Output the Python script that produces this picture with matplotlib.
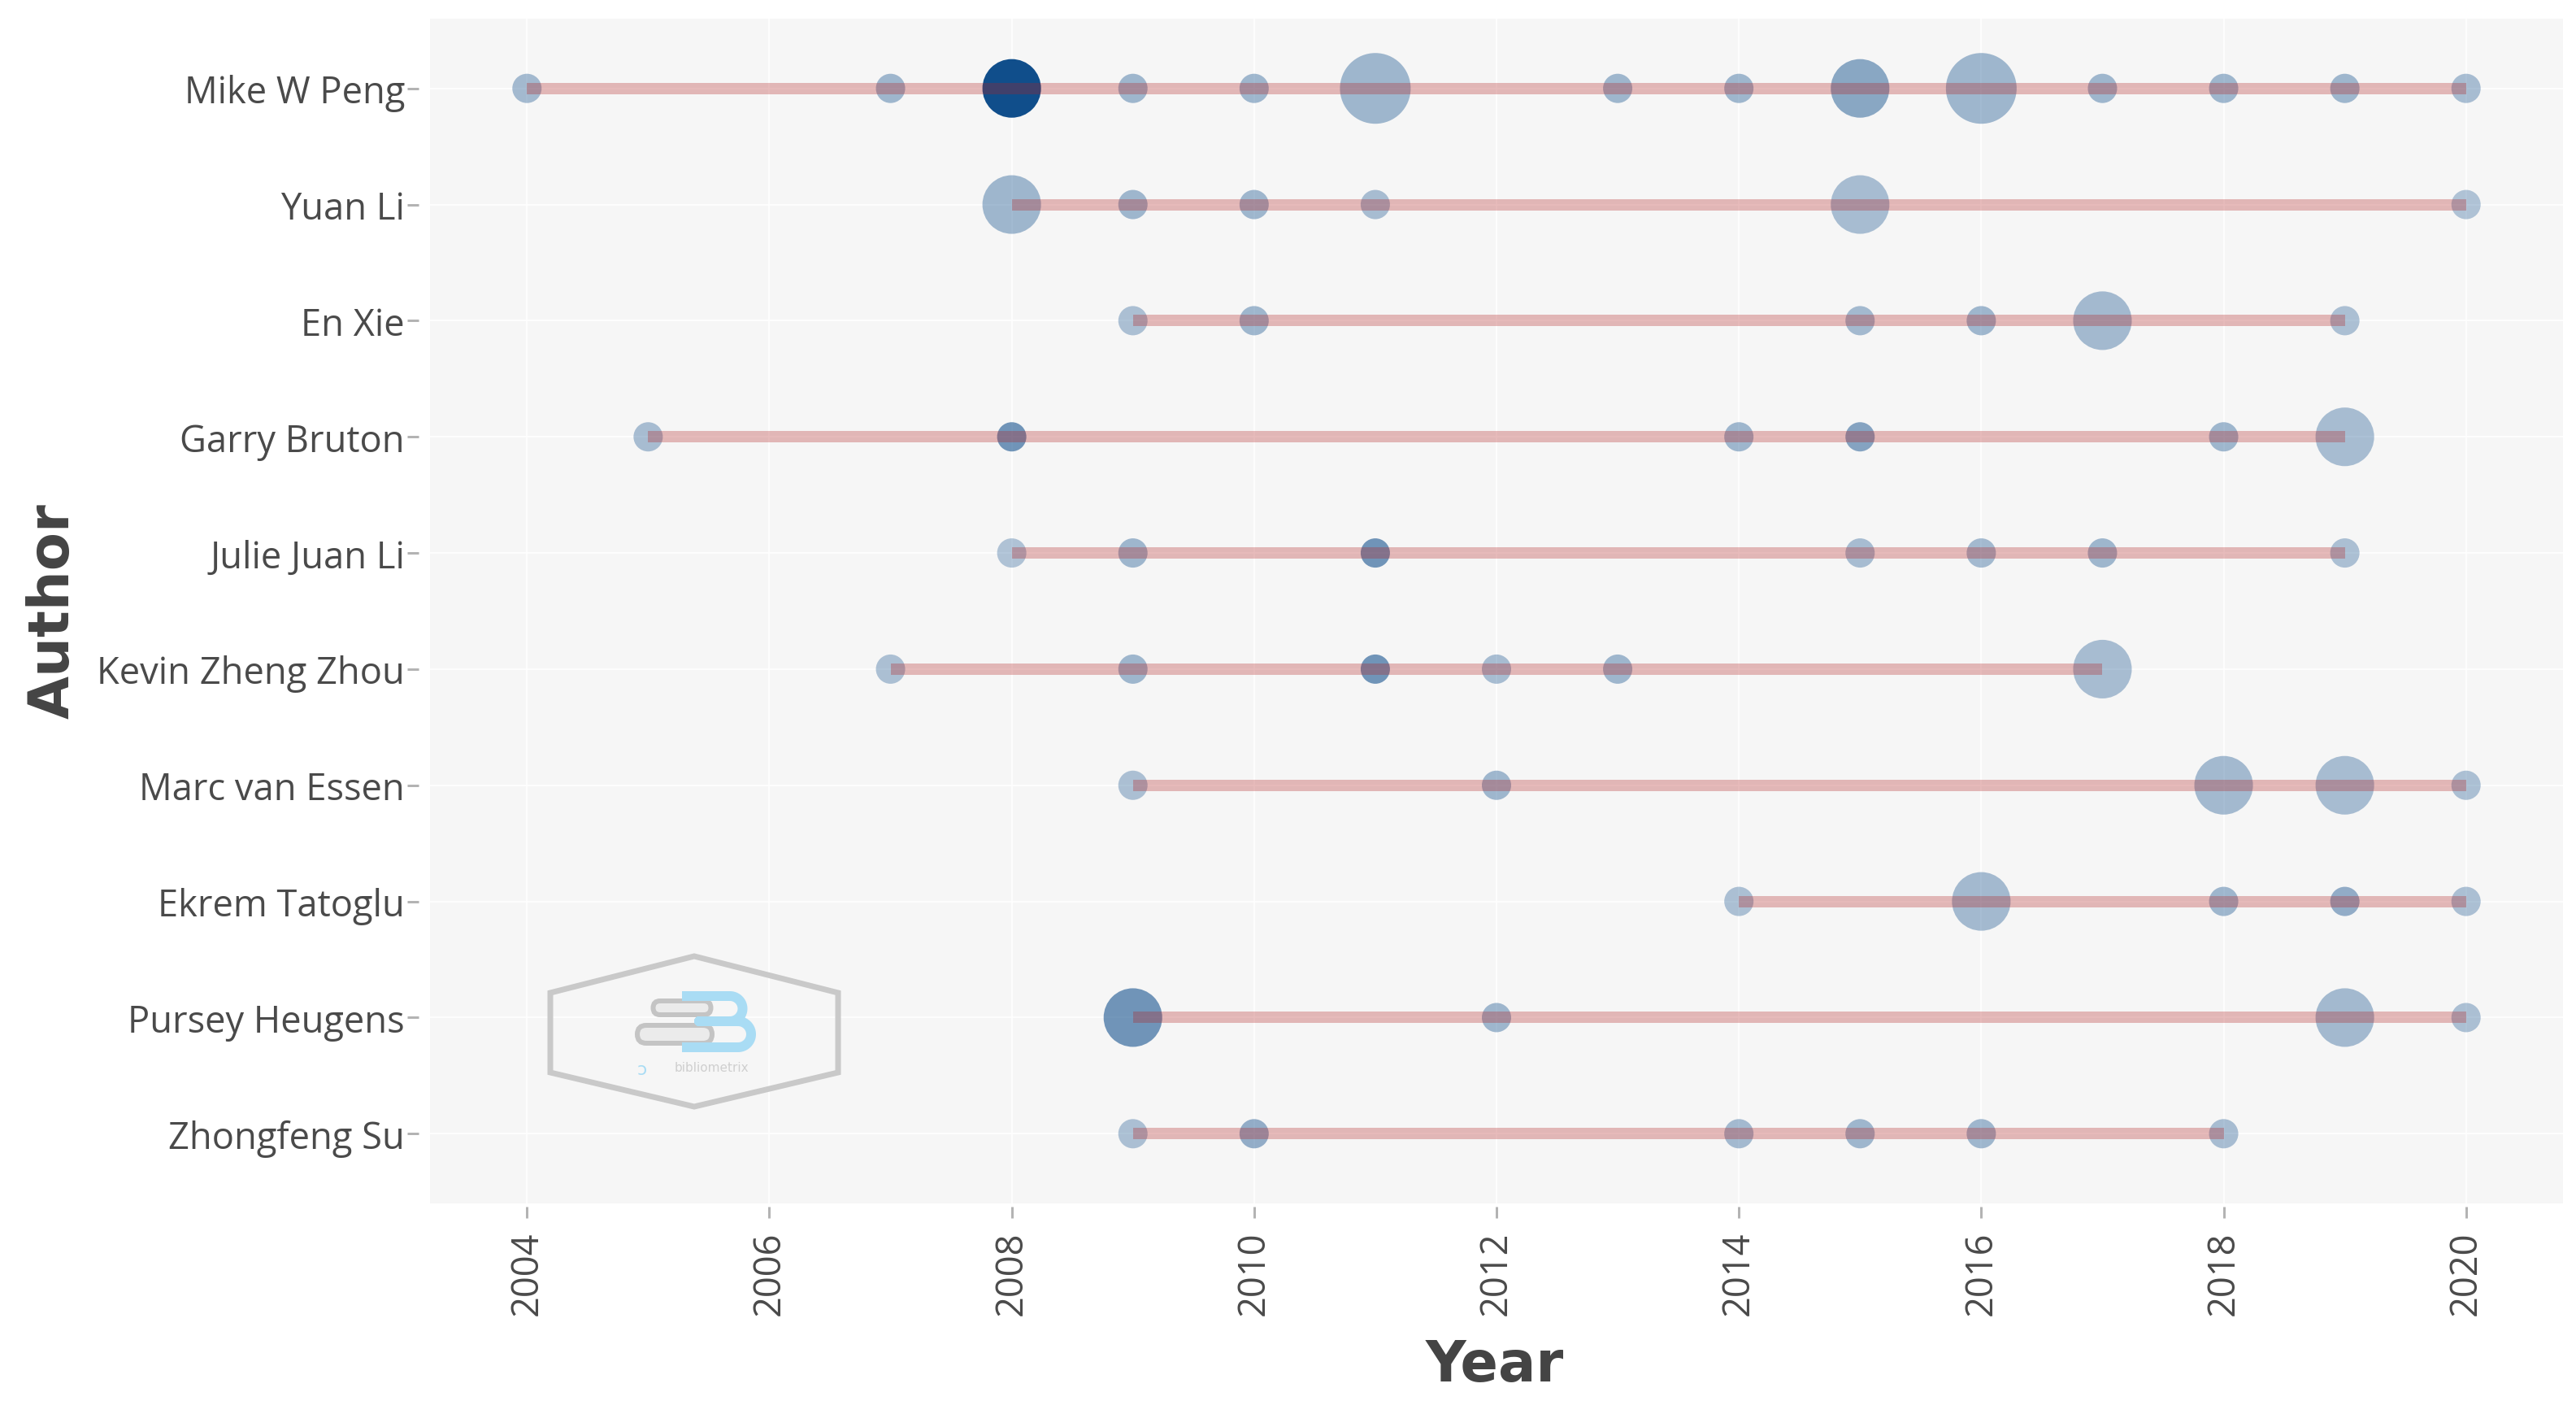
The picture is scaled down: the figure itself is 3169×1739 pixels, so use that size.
import numpy as np
import matplotlib
matplotlib.use("Agg")
import matplotlib.pyplot as plt
from matplotlib.patches import Polygon, FancyBboxPatch, PathPatch
from matplotlib.path import Path

# ---------------- data ----------------
authors = ["Mike W Peng", "Yuan Li", "En Xie", "Garry Bruton", "Julie Juan Li",
           "Kevin Zheng Zhou", "Marc van Essen", "Ekrem Tatoglu",
           "Pursey Heugens", "Zhongfeng Su"]

year_ticks = [2004, 2006, 2008, 2010, 2012, 2014, 2016, 2018, 2020]

pt_author = (["Mike W Peng"] * 14 + ["Yuan Li"] * 6 + ["En Xie"] * 6 +
             ["Garry Bruton"] * 6 + ["Julie Juan Li"] * 7 +
             ["Kevin Zheng Zhou"] * 6 + ["Marc van Essen"] * 5 +
             ["Ekrem Tatoglu"] * 5 + ["Pursey Heugens"] * 4 +
             ["Zhongfeng Su"] * 6)

pt_year = [2004, 2007, 2008, 2009, 2010, 2011, 2013, 2014, 2015, 2016, 2017, 2018, 2019, 2020,
           2008, 2009, 2010, 2011, 2015, 2020,
           2009, 2010, 2015, 2016, 2017, 2019,
           2005, 2008, 2014, 2015, 2018, 2019,
           2008, 2009, 2011, 2015, 2016, 2017, 2019,
           2007, 2009, 2011, 2012, 2013, 2017,
           2009, 2012, 2018, 2019, 2020,
           2014, 2016, 2018, 2019, 2020,
           2009, 2012, 2019, 2020,
           2009, 2010, 2014, 2015, 2016, 2018]

pt_articles = [1, 1, 2, 1, 1, 3, 1, 1, 2, 3, 1, 1, 1, 1,
               2, 1, 1, 1, 2, 1,
               1, 1, 1, 1, 2, 1,
               1, 1, 1, 1, 1, 2,
               1, 1, 1, 1, 1, 1, 1,
               1, 1, 1, 1, 1, 2,
               1, 1, 2, 2, 1,
               1, 2, 1, 1, 1,
               2, 1, 2, 1,
               1, 1, 1, 1, 1, 1]

pt_tc_per_year = [5, 6, 40, 6, 6, 6, 6, 6, 11, 6, 6, 6, 6, 4,
                  6, 6, 6, 4, 4, 2,
                  3, 6, 5, 6, 5, 3,
                  4, 17, 6, 12, 6, 4,
                  2, 6, 17, 4, 5, 6, 3,
                  3, 6, 17, 4, 6, 4,
                  3, 6, 5, 4, 3,
                  3, 5, 6, 9, 3,
                  17, 6, 5, 3,
                  3, 9, 5, 6, 6, 4]

# ---------------- figure ----------------
W, H, DPI = 3169, 1740, 200
fig = plt.figure(figsize=(W / DPI, H / DPI), dpi=DPI)
fig.patch.set_facecolor("white")

px = 72.0 / DPI  # points per pixel

ax = fig.add_axes([529 / W, 1 - 1481 / H, (3153 - 529) / W, (1481 - 24) / H])
ax.set_facecolor("#F6F6F6")

ypos = {a: i for i, a in enumerate(authors)}
y = np.array([ypos[a] for a in pt_author], dtype=float)
x = np.array(pt_year, dtype=float)
f = np.array(pt_articles, dtype=float)
tc = np.array(pt_tc_per_year, dtype=float)

# size scale (area-style, like ggplot scale_size)
dmin, dmax = 36 * px, 87 * px
d = dmin + np.sqrt((f - f.min()) / (f.max() - f.min())) * (dmax - dmin)
sizes = d ** 2
# alpha scale
alphas = 0.27 + 0.73 * tc / tc.max()
base = np.array(matplotlib.colors.to_rgb("#104E8B"))
cols = np.column_stack([np.tile(base, (len(x), 1)), alphas])

ax.scatter(x, y, s=sizes, c=cols, linewidths=0, zorder=3)

# lines from first to last year per author (drawn on top)
for a in authors:
    yrs = [yr for au, yr in zip(pt_author, pt_year) if au == a]
    ax.plot([min(yrs), max(yrs)], [ypos[a], ypos[a]], color="#B22222",
            alpha=0.3, lw=14 * px, solid_capstyle="butt", zorder=4)

ax.set_xlim(2003.2, 2020.8)
ax.set_ylim(len(authors) - 1 + 0.6, -0.6)
ax.set_xticks(year_ticks)
ax.set_xticklabels([str(t) for t in year_ticks])
ax.set_yticks(range(len(authors)))
ax.set_yticklabels(authors)
ax.grid(True, color="white", lw=2.2 * px, alpha=0.8, zorder=0)
ax.set_axisbelow(True)
for s in ax.spines.values():
    s.set_visible(False)
ax.spines["left"].set_position(("outward", 14 * px))
ax.spines["bottom"].set_position(("outward", 4 * px))

ax.tick_params(axis="both", length=14 * px, width=3 * px, color="#b3b3b3",
               labelcolor="#4a4a4a", labelsize=16.3)
ax.tick_params(axis="y", pad=3 * px)
ax.tick_params(axis="x", pad=15 * px, labelrotation=90)
for lab in ax.get_xticklabels() + ax.get_yticklabels():
    lab.set_family("Open Sans")

fig.text(1839 / W, 1 - 1680 / H, "Year", ha="center", va="center",
         fontsize=24.7, fontweight="bold", family="DejaVu Sans", color="#444444")
fig.text(65 / W, 1 - 752 / H, "Author", ha="center", va="center", rotation=90,
         fontsize=24.7, fontweight="bold", family="DejaVu Sans", color="#444444")

# ---------------- watermark logo ----------------
lax = fig.add_axes([0, 0, 1, 1], zorder=5)
lax.set_xlim(0, W)
lax.set_ylim(H, 0)
lax.axis("off")
lax.patch.set_alpha(0)

hexagon = Polygon([(854, 1177), (1031, 1222), (1031, 1320), (854, 1362),
                   (677, 1320), (677, 1222)], closed=True, fill=False,
                  edgecolor="#c9c9c9", lw=7 * px)
lax.add_patch(hexagon)

for (x0, y0, x1, y1) in [(795, 1232, 883, 1249), (773, 1262, 887, 1284)]:
    r = (y1 - y0) / 2
    bar = FancyBboxPatch((x0 + r, y0), (x1 - x0) - 2 * r, y1 - y0,
                         boxstyle=f"round,pad=0,rounding_size={r}",
                         facecolor="#ebebeb", edgecolor="#c4c4c4", lw=6 * px)
    lax.add_patch(bar)

# blue "3" shape
verts = [(839, 1226), (898, 1226)]
th = np.linspace(-np.pi / 2, np.pi / 2, 30)
verts += list(zip(898 + 15.5 * np.cos(th), 1241.5 + 15.5 * np.sin(th)))
verts += [(860, 1257), (908, 1257)]
verts += list(zip(908 + 16 * np.cos(th), 1273 + 16 * np.sin(th)))
verts += [(839, 1289)]
p = Path(verts, [Path.MOVETO] + [Path.LINETO] * (len(verts) - 1))
lax.add_patch(PathPatch(p, fill=False, edgecolor="#a9dcf4", lw=12 * px,
                        capstyle="butt", joinstyle="round"))
lax.text(875, 1314, "bibliometrix", ha="center", va="center", fontsize=5.5,
         color="#cfcfcf", family="DejaVu Sans")
lax.text(790, 1316, "ↄ", ha="center", va="center", fontsize=8,
         color="#a9dcf4", family="DejaVu Sans")

fig.savefig("out.png", dpi=DPI, facecolor="white")
